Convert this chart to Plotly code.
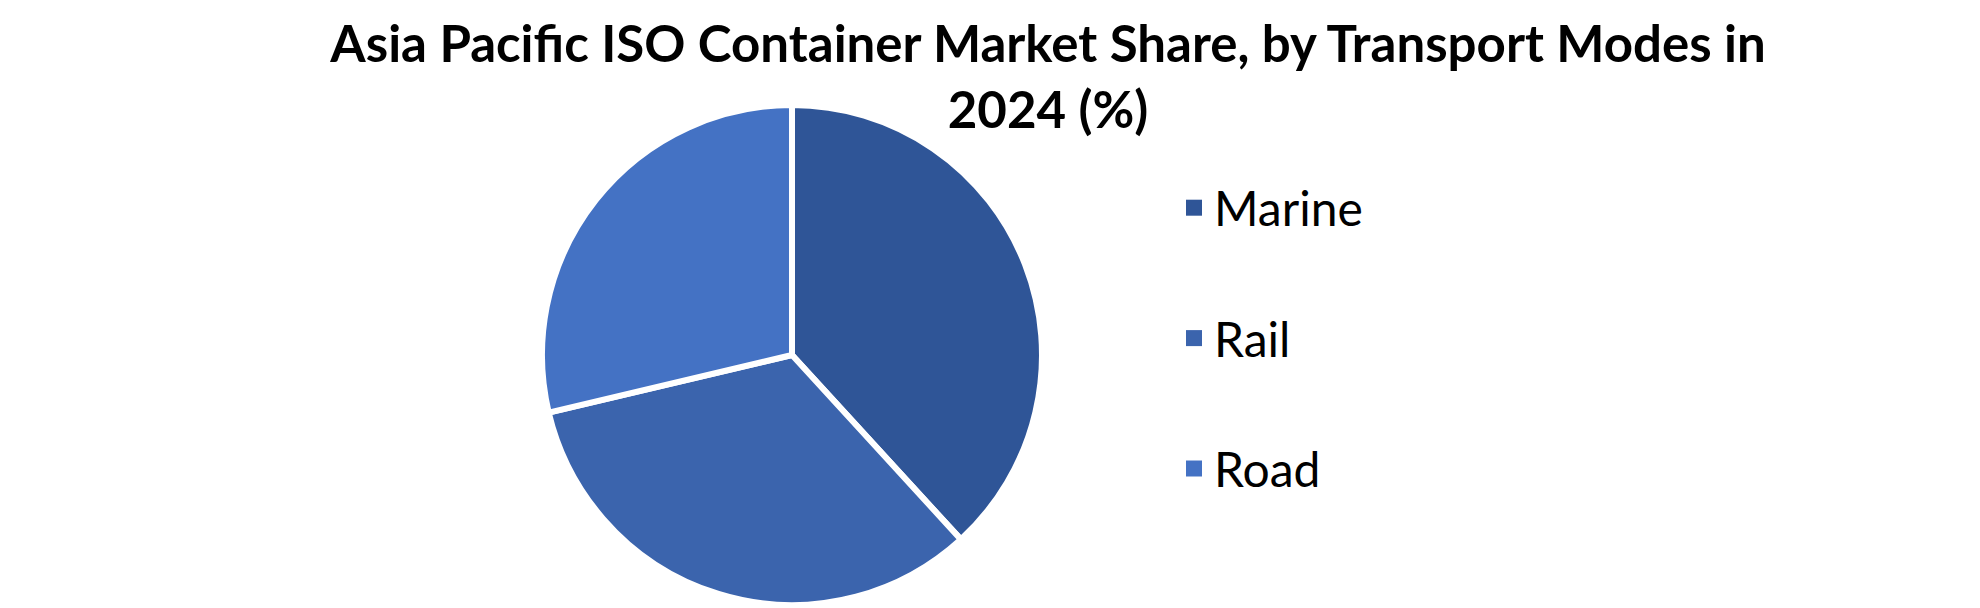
import plotly.graph_objects as go

# Data
categories = ["Marine", "Rail", "Road"]
shares = [38.2, 33.1, 28.7]
colors = ["#2F5597", "#3B64AD", "#4472C4"]
title_text = "Asia Pacific ISO Container Market Share, by Transport Modes in<br>2024 (%)"

W, H = 1980, 608
cx, cy, r = 784, 347, 250

fig = go.Figure()
fig.add_trace(go.Pie(
    labels=categories,
    values=shares,
    sort=False,
    direction="clockwise",
    rotation=0,
    textinfo="none",
    marker=dict(colors=colors, line=dict(color="white", width=6)),
    domain=dict(x=[(cx - r) / W, (cx + r) / W], y=[(H - cy - r) / H, (H - cy + r) / H]),
    showlegend=False,
    hoverinfo="label+percent",
))

# legend entries (one per category) so spacing and symbol size can follow the reference
for i, (cat, col) in enumerate(zip(categories, colors)):
    fig.add_trace(go.Scatter(
        x=[None], y=[None], mode="markers", name=cat,
        marker=dict(symbol="square", size=16, color=col),
        legendgroup=f"g{i}", showlegend=True, hoverinfo="skip",
    ))

fig.update_layout(
    width=W, height=H,
    margin=dict(l=0, r=0, t=0, b=0),
    paper_bgcolor="white", plot_bgcolor="white",
    title=dict(
        text=f"<b>{title_text}</b>",
        x=1040 / W, xanchor="center", xref="paper",
        y=1 - 54 / H, yanchor="top", yref="container",
        font=dict(family="Lato", size=51, color="black"),
    ),
    xaxis=dict(visible=False),
    yaxis=dict(visible=False),
    legend=dict(
        x=1166 / W, xanchor="left",
        y=1 - 162 / H, yanchor="top",
        font=dict(family="Lato", size=48, color="black"),
        itemsizing="trace",
        tracegroupgap=65,
        traceorder="grouped",
        bgcolor="rgba(0,0,0,0)",
    ),
)

fig.write_html("out.html")
